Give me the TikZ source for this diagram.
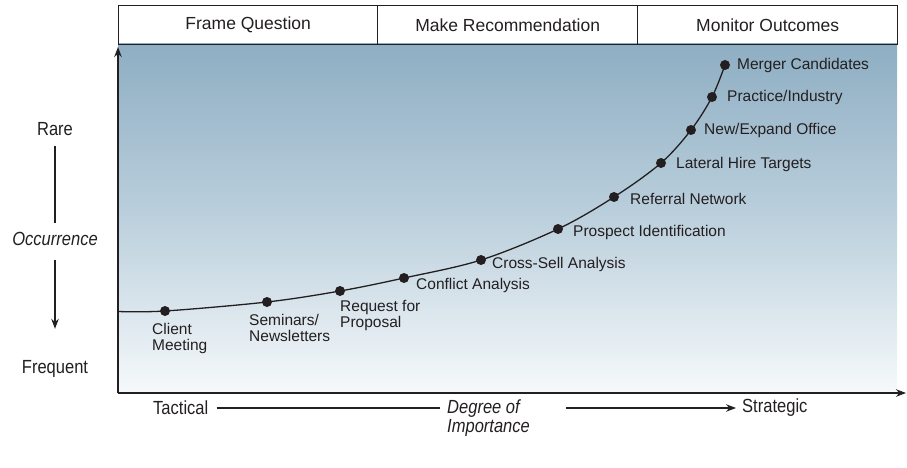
\documentclass[tikz,border=0pt]{standalone}
\usepackage{fontspec}
\setmainfont{Liberation Sans}
\newfontfamily\condfont[FakeStretch=0.87]{Liberation Sans}
\usetikzlibrary{arrows.meta}
\definecolor{ink}{HTML}{231F20}
\definecolor{bgtop}{HTML}{8EAEC3}
\definecolor{bgmid}{HTML}{BCD0DD}
\definecolor{bgbot}{HTML}{F6F9FB}
\tikzset{
  hdr/.style={draw=ink, line width=1.4pt, minimum width=260pt, minimum height=39pt,
    inner sep=0pt, anchor=north west, text=ink, font=\fontsize{17.5}{20}\selectfont},
  pt/.style={circle, fill=ink, inner sep=0pt, minimum size=10pt},
  lbl/.style={inner sep=0pt, anchor=west, text=ink, align=left,
    font=\fontsize{15.5}{16}\selectfont},
  axlbl/.style={inner sep=0pt, text=ink, font=\condfont\fontsize{19}{19}\selectfont},
  axline/.style={draw=ink, line width=1.5pt},
  guide/.style={draw=ink, line width=1.1pt},
  curveline/.style={draw=ink, line width=1.3pt},
  tip/.style={-{Stealth[length=10pt,width=7.5pt]}}
}
\begin{document}
\begin{tikzpicture}[x=1pt,y=-1pt]
\useasboundingbox (0,0) rectangle (907,468);
% background
\shade[top color=bgtop, bottom color=bgmid] (118,44) rectangle (897,219);
\shade[top color=bgmid, bottom color=bgbot] (118,218.5) rectangle (897,393);
% header
\node[hdr, minimum width=259pt] (h1) at (118,5) {Frame Question};
\node[hdr] (h2) at (377,5) {Make Recommendation};
\node[hdr] (h3) at (637,5) {Monitor Outcomes};
% axes
\coordinate (O) at (118,393);
\coordinate (Ytop) at (118,47);
\coordinate (Xend) at (906,393);
\draw[axline, tip] (O) -- (Ytop);
\draw[axline, tip] (O) -- (Xend);
% curve points
\coordinate (c0) at (118,311.5);
\node[pt] (d1) at (165,311) {};
\node[pt] (d2) at (267,302) {};
\node[pt] (d3) at (340,291) {};
\node[pt] (d4) at (404,278) {};
\node[pt] (d5) at (481,260) {};
\node[pt] (d6) at (558,229) {};
\node[pt] (d7) at (614,197) {};
\node[pt] (d8) at (661,163) {};
\node[pt] (d9) at (691,130) {};
\node[pt] (d10) at (712,97) {};
\node[pt] (d11) at (725,65) {};
\draw[curveline] plot[smooth, tension=0.55] coordinates
  {(c0) (d1) (d2) (d3) (d4) (d5) (d6) (d7) (d8) (d9) (d10) (d11)};
% labels
\node[lbl] (l1) at (152,338.5) {Client\\Meeting};
\node[lbl] (l2) at (249,328) {Seminars/\\Newsletters};
\node[lbl] (l3) at (340,315) {Request for\\Proposal};
\node[lbl] (l4) at (416,285) {Conflict Analysis};
\node[lbl] (l5) at (492,264) {Cross-Sell Analysis};
\node[lbl] (l6) at (573,232) {Prospect Identification};
\node[lbl] (l7) at (630,199) {Referral Network};
\node[lbl] (l8) at (676,164) {Lateral Hire Targets};
\node[lbl] (l9) at (704,130) {New/Expand Office};
\node[lbl] (l10) at (727,97) {Practice/Industry};
\node[lbl] (l11) at (737,65) {Merger Candidates};
% left axis labels
\node[axlbl] (rare) at (55,129) {Rare};
\node[axlbl] (occ) at (55,238.5) {\itshape Occurrence};
\node[axlbl] (freq) at (55,368.5) {Frequent};
\draw[guide, shorten <=10pt, shorten >=9pt] (rare) -- (occ);
\draw[guide, tip, shorten <=15pt, shorten >=31pt] (occ) -- (freq);
% bottom axis labels
\node[axlbl, anchor=west] (tac) at (153,408) {Tactical};
\node[axlbl, anchor=west, align=left, font=\condfont\itshape\fontsize{19}{18.5}\selectfont] (deg) at (447,418) {Degree of\\Importance};
\node[axlbl, anchor=west] (str) at (742,408) {Strategic};
\draw[guide, shorten <=8pt, shorten >=7pt] (tac.east) -- (tac.east -| deg.west);
\draw[guide, tip, shorten <=36pt, shorten >=6pt] (str.west -| deg.east) -- (str.west);
\end{tikzpicture}
\end{document}
